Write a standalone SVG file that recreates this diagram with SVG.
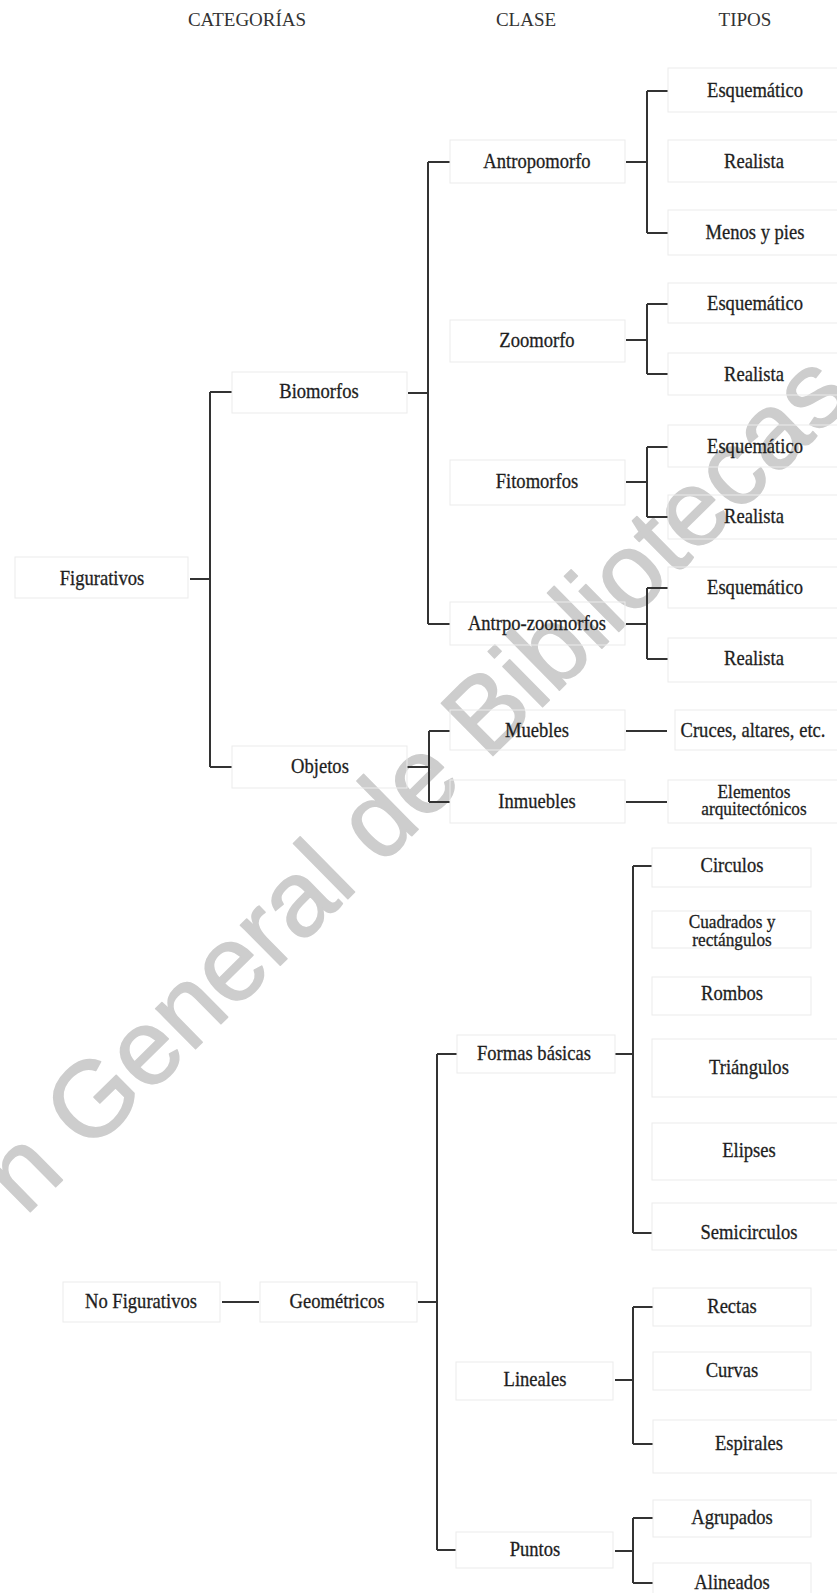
<svg xmlns="http://www.w3.org/2000/svg" width="837" height="1593" viewBox="0 0 837 1593">
<style>
.t{font-family:"Liberation Serif","Times New Roman",serif;font-size:21px;fill:#1e1e1e;stroke:#1e1e1e;stroke-width:0.3;text-anchor:middle;transform-box:fill-box;transform-origin:center;transform:scaleX(0.885)}
.s{font-size:19.5px}
.h{font-family:"Liberation Serif","Times New Roman",serif;font-size:19px;fill:#333;text-anchor:middle}
.b{fill:none;stroke:#ebebeb;stroke-width:1}
.c{fill:none;stroke:#333;stroke-width:2}
.wm{font-family:"Liberation Sans",Arial,sans-serif;font-size:107px;fill:#cdcdcd;stroke:#cdcdcd;stroke-width:1.5;stroke-linejoin:round}
</style>
<rect width="837" height="1593" fill="#fff"/>
<text class="wm" x="25" y="1217" transform="rotate(-44.6 25 1217)">n General de Bibliotecas</text>

<g id="headers">
<text class="h" x="247" y="26">CATEGORÍAS</text>
<text class="h" x="526" y="26">CLASE</text>
<text class="h" x="745" y="26">TIPOS</text>
</g>

<g id="connectors">
<path class="c" d="M190 579H210M210 392V767M210 392H232M210 767H232"/>
<path class="c" d="M408 393H428M428 162V624M428 162H450M428 624H450"/>
<path class="c" d="M407 767H429M429 731V802M429 731H450M429 802H450"/>
<path class="c" d="M626 162H647M647 91V233M647 91H668M647 233H668"/>
<path class="c" d="M626 340H647M647 304V374M647 304H668M647 374H668"/>
<path class="c" d="M626 482H647M647 447V517M647 447H668M647 517H668"/>
<path class="c" d="M626 624H647M647 588V659M647 588H668M647 659H668"/>
<path class="c" d="M626 731H667M626 802H667"/>
<path class="c" d="M222 1302H259M418 1302H437M437 1054V1550M437 1054H457M437 1550H456"/>
<path class="c" d="M615 1054H633M633 866V1233M633 866H652M633 1233H652"/>
<path class="c" d="M615 1380H633M633 1307V1444M633 1307H653M633 1444H653"/>
<path class="c" d="M615 1551H633M633 1518V1583M633 1518H653M633 1583H653"/>
</g>

<g id="figurativos"><rect class="b" x="15" y="557" width="173" height="41"/><text class="t" x="102" y="585">Figurativos</text></g>
<g id="biomorfos"><rect class="b" x="232" y="372" width="175" height="41"/><text class="t" x="319" y="398">Biomorfos</text></g>
<g id="objetos"><rect class="b" x="232" y="746" width="175" height="42"/><text class="t" x="320" y="773">Objetos</text></g>

<g id="antropomorfo"><rect class="b" x="450" y="140" width="175" height="43"/><text class="t" x="537" y="168">Antropomorfo</text></g>
<g id="zoomorfo"><rect class="b" x="450" y="320" width="175" height="42"/><text class="t" x="537" y="347">Zoomorfo</text></g>
<g id="fitomorfos"><rect class="b" x="450" y="460" width="175" height="45"/><text class="t" x="537" y="488">Fitomorfos</text></g>
<g id="antrpo-zoomorfos"><rect class="b" x="450" y="602" width="175" height="43"/><text class="t" x="537" y="630">Antrpo-zoomorfos</text></g>
<g id="muebles"><rect class="b" x="450" y="710" width="175" height="40"/><text class="t" x="537" y="737">Muebles</text></g>
<g id="inmuebles"><rect class="b" x="450" y="780" width="175" height="43"/><text class="t" x="537" y="808">Inmuebles</text></g>

<g id="t-esq1"><rect class="b" x="668" y="68" width="175" height="44"/><text class="t" x="755" y="97">Esquemático</text></g>
<g id="t-real1"><rect class="b" x="668" y="140" width="175" height="42"/><text class="t" x="754" y="168">Realista</text></g>
<g id="t-menos"><rect class="b" x="668" y="210" width="175" height="45"/><text class="t" x="755" y="239">Menos y pies</text></g>
<g id="t-esq2"><rect class="b" x="668" y="283" width="175" height="40"/><text class="t" x="755" y="310">Esquemático</text></g>
<g id="t-real2"><rect class="b" x="668" y="353" width="175" height="42"/><text class="t" x="754" y="381">Realista</text></g>
<g id="t-esq3"><rect class="b" x="668" y="425" width="175" height="42"/><text class="t" x="755" y="453">Esquemático</text></g>
<g id="t-real3"><rect class="b" x="668" y="495" width="175" height="44"/><text class="t" x="754" y="523">Realista</text></g>
<g id="t-esq4"><rect class="b" x="668" y="567" width="175" height="41"/><text class="t" x="755" y="594">Esquemático</text></g>
<g id="t-real4"><rect class="b" x="668" y="638" width="175" height="44"/><text class="t" x="754" y="665">Realista</text></g>
<g id="t-cruces"><rect class="b" x="675" y="710" width="168" height="40"/><text class="t" x="753" y="737">Cruces, altares, etc.</text></g>
<g id="t-elementos"><rect class="b" x="668" y="780" width="175" height="43"/><text class="t s" x="754" y="798">Elementos</text><text class="t s" x="754" y="815">arquitectónicos</text></g>

<g id="no-figurativos"><rect class="b" x="63" y="1282" width="157" height="40"/><text class="t" x="141" y="1308">No Figurativos</text></g>
<g id="geometricos"><rect class="b" x="260" y="1282" width="157" height="40"/><text class="t" x="337" y="1308">Geométricos</text></g>
<g id="formas-basicas"><rect class="b" x="457" y="1035" width="158" height="38"/><text class="t" x="534" y="1060">Formas básicas</text></g>
<g id="lineales"><rect class="b" x="456" y="1362" width="157" height="38"/><text class="t" x="535" y="1386">Lineales</text></g>
<g id="puntos"><rect class="b" x="456" y="1532" width="157" height="36"/><text class="t" x="535" y="1556">Puntos</text></g>

<g id="t-circulos"><rect class="b" x="652" y="848" width="159" height="39"/><text class="t" x="732" y="872">Circulos</text></g>
<g id="t-cuadrados"><rect class="b" x="652" y="911" width="159" height="37"/><text class="t s" x="732" y="928">Cuadrados y</text><text class="t s" x="732" y="946">rectángulos</text></g>
<g id="t-rombos"><rect class="b" x="652" y="977" width="159" height="38"/><text class="t" x="732" y="1000">Rombos</text></g>
<g id="t-triangulos"><rect class="b" x="652" y="1039" width="190" height="58"/><text class="t" x="749" y="1074">Triángulos</text></g>
<g id="t-elipses"><rect class="b" x="652" y="1123" width="190" height="57"/><text class="t" x="749" y="1157">Elipses</text></g>
<g id="t-semicirculos"><rect class="b" x="652" y="1203" width="190" height="47"/><text class="t" x="749" y="1239">Semicirculos</text></g>
<g id="t-rectas"><rect class="b" x="653" y="1288" width="158" height="38"/><text class="t" x="732" y="1313">Rectas</text></g>
<g id="t-curvas"><rect class="b" x="653" y="1352" width="158" height="38"/><text class="t" x="732" y="1377">Curvas</text></g>
<g id="t-espirales"><rect class="b" x="653" y="1420" width="190" height="53"/><text class="t" x="749" y="1450">Espirales</text></g>
<g id="t-agrupados"><rect class="b" x="653" y="1500" width="158" height="37"/><text class="t" x="732" y="1524">Agrupados</text></g>
<g id="t-alineados"><rect class="b" x="653" y="1563" width="158" height="40"/><text class="t" x="732" y="1589">Alineados</text></g>
</svg>
